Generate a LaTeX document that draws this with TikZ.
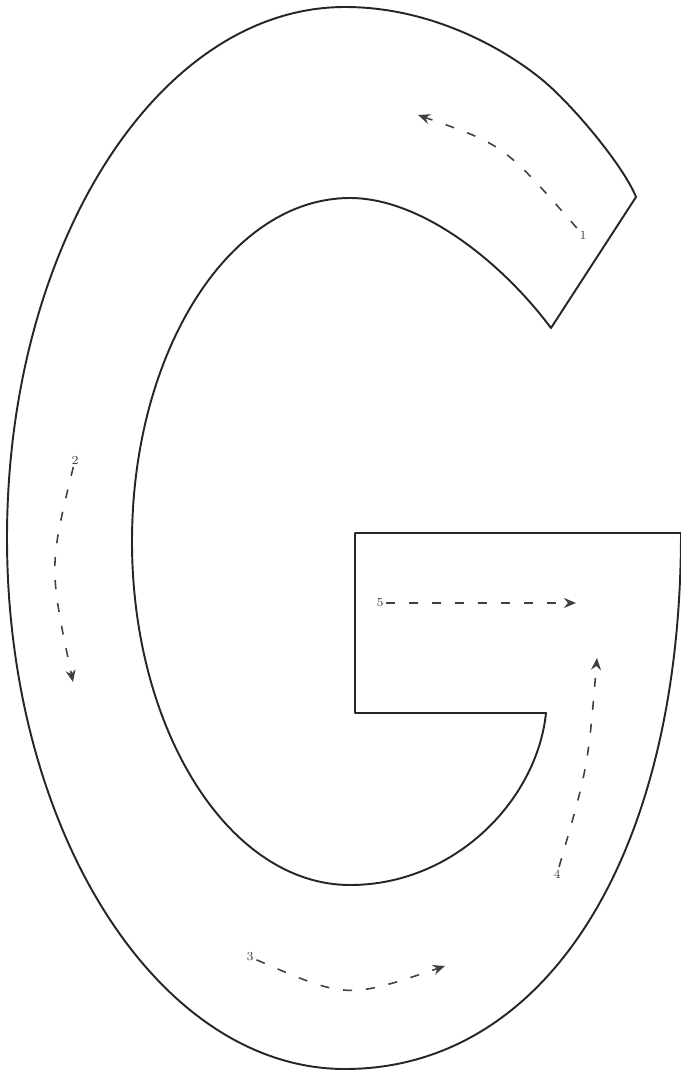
\documentclass[tikz,border=0pt]{standalone}
\usepackage{tikz}
\usetikzlibrary{arrows.meta, positioning}
\usepackage{xcolor}
\definecolor{inkgray}{rgb}{0.25, 0.25, 0.25}

\begin{document}
\begin{tikzpicture}[
        x=0.2mm, y=-0.2mm,
        every node/.style={font=\scriptsize},
        outline/.style={draw=black!85, line width=1.1pt, line join=round},
        route/.style={-{Stealth[length=2.4mm, width=2mm]}, inkgray, line width=0.9pt, dash pattern=on 1.8mm off 2.8mm},
        stepno/.style={text=inkgray, inner sep=1.5pt}
    ]
        \useasboundingbox (0,0) rectangle (681,1075);

        % letter G
        \draw[outline] (681,533) -- (355,533) -- (355,713) -- (546,713)
            .. controls (537,800) and (455,885) .. (350,885)
            .. controls (229.6,885) and (132,731.2) .. (132,541.5)
            .. controls (132,351.8) and (229.6,198) .. (350,198)
            .. controls (420,198) and (500,260) .. (551,328)
            -- (636,197)
            .. controls (624,167) and (576,109) .. (546,83)
            .. controls (516,57) and (440,7) .. (345,7)
            .. controls (158.3,7) and (7,244.7) .. (7,538)
            .. controls (7,831.3) and (158.3,1069) .. (345,1069)
            .. controls (546.6,1069) and (681,854.6) .. (681,533)
            -- cycle;

        % stroke order
        \node[stepno] (s1) at (583,235) {1};
        \node[stepno] (s2) at (75,460) {2};
        \node[stepno] (s3) at (250,957) {3};
        \node[stepno] (s4) at (557,874) {4};
        \node[stepno] (s5) at (380,603) {5};

        \coordinate (e1) at (418,115);
        \coordinate (e2) at (73,682);
        \coordinate (e3) at (445,966);
        \coordinate (e4) at (597,658);
        \coordinate (e5) at (576,603);

        \draw[route] (s1) .. controls (504,145) .. (e1);
        \draw[route] (s2) .. controls (49,567) .. (e2);
        \draw[route] (s3) .. controls (347,999) .. (e3);
        \draw[route] (s4) .. controls (588,767) .. (e4);
        \draw[route] (s5) -- (e5);
    \end{tikzpicture}
\end{document}
